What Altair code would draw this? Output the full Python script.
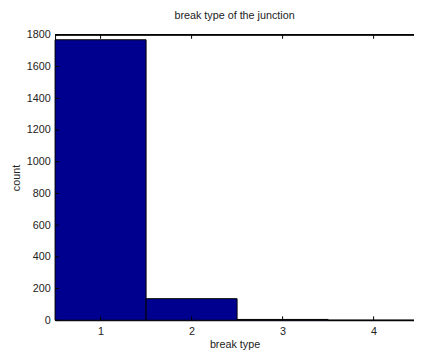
import altair as alt
import pandas as pd

break_types = [1, 2, 3, 4]
counts = [1769, 136, 5, 1]
x_ticks = [1, 2, 3, 4]
y_ticks = [0, 200, 400, 600, 800, 1000, 1200, 1400, 1600, 1800]

W, H = 366, 291
XMIN, XMAX = 0.5, 0.5 + W / 92.8

df = pd.DataFrame({"type": break_types, "count": counts})
xt = pd.DataFrame({"t": x_ticks})
yt = pd.DataFrame({"t": y_ticks})

xscale = alt.Scale(domain=[XMIN, XMAX], nice=False, zero=False)
yscale = alt.Scale(domain=[0, 1800], nice=False)

font = "Liberation Sans"

xaxis = alt.Axis(
    values=x_ticks, format="d", labelOverlap=False, title="break type",
    tickSize=0, labelPadding=6,
    domainColor="black", labelColor="#222", titleColor="#222",
    labelFontSize=11, titleFontSize=11, labelFont=font, titleFont=font,
    titleFontWeight="normal", grid=False, titlePadding=2)
yaxis = alt.Axis(
    values=y_ticks, format="d", labelOverlap=False, title="count",
    tickSize=0, labelPadding=5,
    domainColor="black", labelColor="#222", titleColor="#222",
    labelFontSize=11, titleFontSize=11, labelFont=font, titleFont=font,
    titleFontWeight="normal", grid=False, titlePadding=5)

bars = alt.Chart(df).transform_calculate(
    x0="datum.type - 0.5", x1="datum.type + 0.5"
).mark_rect(color="#00008F", stroke="black", strokeWidth=1).encode(
    x=alt.X("x0:Q", scale=xscale, axis=xaxis, title="break type"),
    x2="x1:Q",
    y=alt.Y("count:Q", scale=yscale, axis=yaxis, title="count"),
)

xtick_bottom = alt.Chart(xt).mark_rule(color="black").encode(
    x=alt.X("t:Q", scale=xscale, axis=xaxis, title="break type"),
    y=alt.value(H), y2=alt.value(H - 4))
xtick_top = alt.Chart(xt).mark_rule(color="black").encode(
    x=alt.X("t:Q", scale=xscale, axis=xaxis, title="break type"),
    y=alt.value(0), y2=alt.value(4))
ytick_left = alt.Chart(yt).mark_rule(color="black").encode(
    y=alt.Y("t:Q", scale=yscale, axis=yaxis, title="count"),
    x=alt.value(0), x2=alt.value(4))
top_border = alt.Chart(xt).mark_rule(color="black").encode(
    y=alt.value(0), x=alt.value(0), x2=alt.value(W))

chart = alt.layer(bars, xtick_bottom, xtick_top, ytick_left, top_border).properties(
    width=W, height=H,
    title=alt.TitleParams("break type of the junction", fontSize=11, font=font,
                          fontWeight="normal", color="#222", offset=8),
    autosize=alt.AutoSizeParams(type="none"),
    padding={"left": 48, "top": 24, "right": 0, "bottom": 29},
).configure_view(stroke=None).configure(background="white")

chart.save("out.html", embed_options={"renderer": "svg", "actions": False})
